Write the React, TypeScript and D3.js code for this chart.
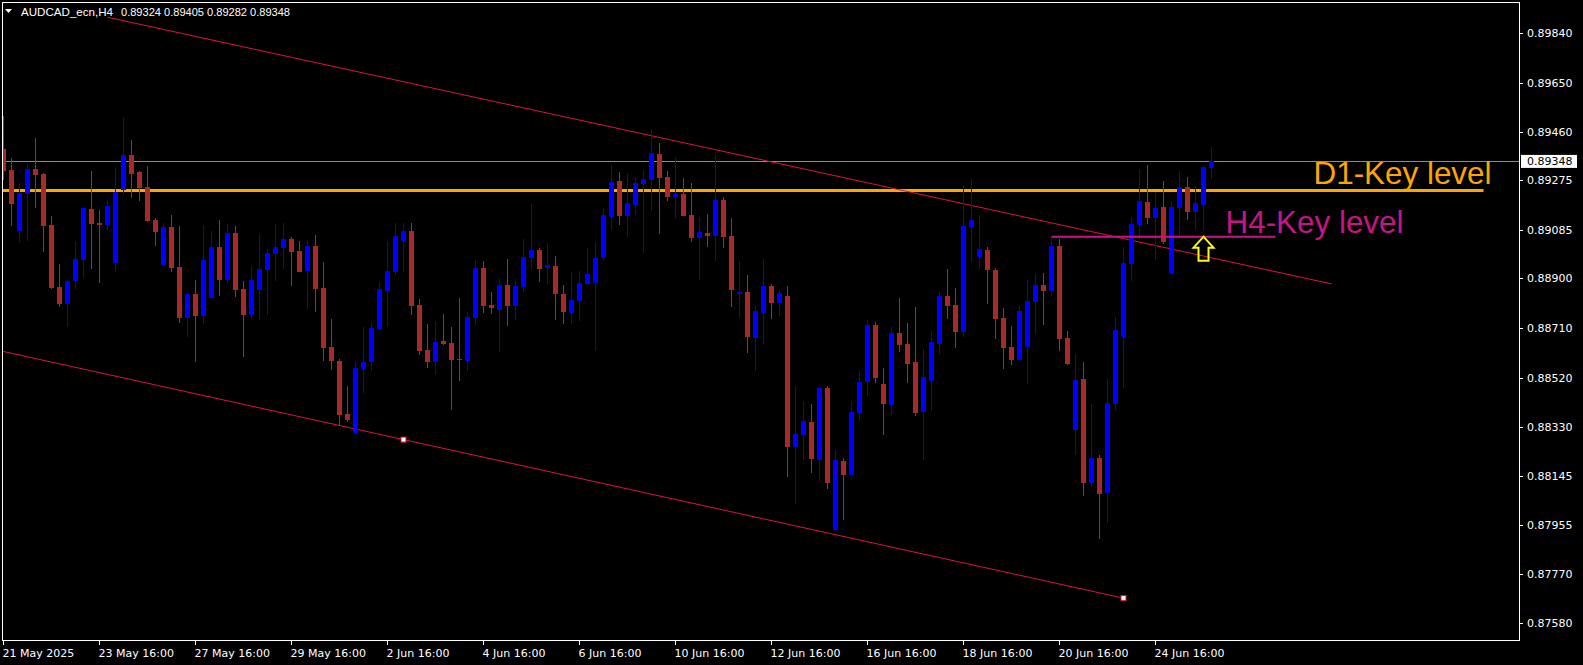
import React from 'react'
import * as d3 from 'd3'

const W = 1583
const H = 665

// H4 candles, oldest first (21 May 16:00 ... 25 Jun 12:00)
const opens = [
	0.89394, 0.89315, 0.89083, 0.89224, 0.89319, 0.893, 0.89104, 0.88867, 0.88803, 0.8889,
	0.88972, 0.89166, 0.89112, 0.89104, 0.88959, 0.89239, 0.89373, 0.89307, 0.89249, 0.89124,
	0.88951, 0.89097, 0.88944, 0.8875, 0.8884, 0.88757, 0.88826, 0.8902, 0.88895, 0.89074,
	0.8886, 0.88761, 0.88857, 0.88934, 0.88995, 0.89018, 0.89051, 0.89005, 0.88928, 0.89024,
	0.88863, 0.88638, 0.88584, 0.88381, 0.8831, 0.88555, 0.88581, 0.88708, 0.88852, 0.88926,
	0.89043, 0.89082, 0.88798, 0.88626, 0.88581, 0.88661, 0.88653, 0.88592, 0.88584, 0.8875,
	0.8894, 0.88798, 0.8878, 0.88875, 0.88796, 0.88867, 0.8898, 0.89009, 0.88941, 0.88948,
	0.8884, 0.88769, 0.88815, 0.8888, 0.88883, 0.8898, 0.89135, 0.89273, 0.8914, 0.89181,
	0.89263, 0.89278, 0.89376, 0.89288, 0.89212, 0.89223, 0.89143, 0.89056, 0.89074, 0.89064,
	0.892, 0.89062, 0.88842, 0.88848, 0.88673, 0.88769, 0.88871, 0.88807, 0.88833, 0.88256,
	0.88302, 0.8835, 0.88206, 0.88481, 0.87938, 0.88202, 0.88149, 0.88386, 0.88505, 0.88722,
	0.88496, 0.88417, 0.88691, 0.88649, 0.8858, 0.8839, 0.88507, 0.8865, 0.88833, 0.88798,
	0.88696, 0.89097, 0.88982, 0.89009, 0.88932, 0.88749, 0.88638, 0.88589, 0.88638, 0.88811,
	0.88875, 0.88852, 0.89024, 0.88672, 0.88321, 0.88515, 0.88118, 0.88213, 0.8808, 0.88421,
	0.88676, 0.88957, 0.89104, 0.89193, 0.89133, 0.89173, 0.88921, 0.89171, 0.8925, 0.89156,
	0.89181, 0.89324
]
const highs = [
	0.89522, 0.8936, 0.89264, 0.89338, 0.89439, 0.89305, 0.89139, 0.88955, 0.88894, 0.89043,
	0.89173, 0.89311, 0.89162, 0.892, 0.89325, 0.89515, 0.8943, 0.89311, 0.8933, 0.8913,
	0.89111, 0.89143, 0.89101, 0.88844, 0.88894, 0.89104, 0.89082, 0.89124, 0.89108, 0.89101,
	0.8889, 0.88948, 0.8907, 0.89013, 0.89108, 0.89112, 0.89059, 0.89043, 0.89047, 0.89066,
	0.88963, 0.88745, 0.88592, 0.88488, 0.8858, 0.88714, 0.88733, 0.88886, 0.89043, 0.89112,
	0.89112, 0.89112, 0.88821, 0.88726, 0.88737, 0.88764, 0.88714, 0.88825, 0.88772, 0.88971,
	0.88967, 0.88848, 0.88898, 0.88974, 0.88898, 0.89051, 0.89185, 0.89017, 0.89036, 0.88986,
	0.88875, 0.88925, 0.88928, 0.89017, 0.89039, 0.8917, 0.89334, 0.89307, 0.893, 0.89288,
	0.89315, 0.89472, 0.89418, 0.89311, 0.89361, 0.89284, 0.89265, 0.89135, 0.89147, 0.89376,
	0.89212, 0.89131, 0.88967, 0.88913, 0.88798, 0.88974, 0.88879, 0.88852, 0.88871, 0.88488,
	0.88431, 0.88419, 0.88484, 0.88488, 0.88245, 0.88214, 0.88431, 0.88546, 0.88741, 0.88733,
	0.88557, 0.88714, 0.88825, 0.88729, 0.88791, 0.8863, 0.88699, 0.88848, 0.88936, 0.88863,
	0.89258, 0.89281, 0.89143, 0.8902, 0.8894, 0.88787, 0.88718, 0.88794, 0.88894, 0.88917,
	0.88921, 0.89059, 0.89051, 0.88699, 0.88611, 0.88581, 0.88421, 0.88225, 0.88515, 0.88752,
	0.8902, 0.89135, 0.89319, 0.89334, 0.89231, 0.89273, 0.89196, 0.89311, 0.89288, 0.89254,
	0.8933, 0.89405
]
const lows = [
	0.89277, 0.89101, 0.89041, 0.89045, 0.89171, 0.89002, 0.8886, 0.88792, 0.88714, 0.8886,
	0.88903, 0.88936, 0.88883, 0.89082, 0.88925, 0.89219, 0.89209, 0.89198, 0.89117, 0.89025,
	0.8895, 0.88926, 0.88731, 0.88677, 0.88581, 0.88727, 0.88825, 0.88834, 0.88884, 0.8883,
	0.88601, 0.8875, 0.88742, 0.88761, 0.8889, 0.88936, 0.88872, 0.88923, 0.88784, 0.88773,
	0.88585, 0.88551, 0.8834, 0.88352, 0.88309, 0.88463, 0.88547, 0.88705, 0.88714, 0.88914,
	0.88926, 0.88761, 0.88608, 0.88558, 0.88532, 0.88646, 0.88398, 0.88509, 0.88547, 0.88723,
	0.88769, 0.88765, 0.8862, 0.88719, 0.88742, 0.88849, 0.88934, 0.88888, 0.8888, 0.88742,
	0.88727, 0.88727, 0.88738, 0.88876, 0.88623, 0.88972, 0.89087, 0.89106, 0.8906, 0.89143,
	0.88997, 0.89158, 0.89071, 0.89198, 0.89133, 0.89139, 0.89041, 0.88895, 0.89022, 0.88968,
	0.89018, 0.88792, 0.8875, 0.88616, 0.88547, 0.8865, 0.88746, 0.88757, 0.88141, 0.88038,
	0.88206, 0.88156, 0.88126, 0.88095, 0.87937, 0.87977, 0.88145, 0.88356, 0.88451, 0.88501,
	0.88302, 0.88379, 0.8862, 0.88501, 0.88375, 0.88206, 0.88394, 0.88612, 0.88746, 0.88635,
	0.88677, 0.88964, 0.88937, 0.88803, 0.88669, 0.88555, 0.8857, 0.88585, 0.88497, 0.88689,
	0.88723, 0.88834, 0.88623, 0.8857, 0.88225, 0.88068, 0.88103, 0.87904, 0.87965, 0.88398,
	0.88482, 0.8889, 0.89052, 0.8911, 0.88972, 0.89033, 0.88918, 0.89062, 0.89125, 0.89087,
	0.89082, 0.89282
]
const closes = [
	0.89312, 0.89186, 0.89226, 0.89318, 0.89296, 0.89102, 0.88865, 0.88803, 0.8889, 0.88974,
	0.89171, 0.8911, 0.89106, 0.89177, 0.89232, 0.89373, 0.893, 0.89246, 0.8912, 0.89079,
	0.89097, 0.88941, 0.8875, 0.8884, 0.88757, 0.88971, 0.8902, 0.88895, 0.89074, 0.88857,
	0.88761, 0.88894, 0.88936, 0.88997, 0.8902, 0.89051, 0.89002, 0.88926, 0.89024, 0.88861,
	0.88635, 0.88585, 0.88379, 0.88359, 0.88557, 0.8858, 0.8871, 0.8886, 0.88928, 0.89062,
	0.89082, 0.88796, 0.88623, 0.88581, 0.88657, 0.8865, 0.88589, 0.88589, 0.88752, 0.8894,
	0.88796, 0.88788, 0.88875, 0.88796, 0.88871, 0.88982, 0.89009, 0.88937, 0.88951, 0.88842,
	0.88773, 0.88817, 0.88883, 0.88917, 0.88978, 0.89143, 0.89269, 0.8914, 0.89189, 0.89265,
	0.89281, 0.8938, 0.89286, 0.89213, 0.89223, 0.8914, 0.89056, 0.89078, 0.89064, 0.892,
	0.8906, 0.88857, 0.88848, 0.88677, 0.88775, 0.88871, 0.88807, 0.88844, 0.88256, 0.88306,
	0.88354, 0.8821, 0.88481, 0.88118, 0.88205, 0.88149, 0.88389, 0.88504, 0.88722, 0.8852,
	0.88421, 0.88691, 0.88646, 0.88574, 0.88386, 0.88523, 0.88657, 0.88833, 0.88796, 0.88696,
	0.89101, 0.89124, 0.89013, 0.88934, 0.88746, 0.88635, 0.88589, 0.88775, 0.88814, 0.88875,
	0.88853, 0.89025, 0.88669, 0.88574, 0.88511, 0.88118, 0.88213, 0.88076, 0.88423, 0.88703,
	0.88959, 0.89108, 0.89196, 0.89133, 0.8917, 0.89041, 0.89173, 0.8925, 0.89156, 0.89189,
	0.89327, 0.89348
]

const priceTicks = [
	0.8984, 0.8965, 0.8946, 0.89275, 0.89085, 0.889, 0.8871, 0.8852, 0.8833, 0.88145, 0.87955,
	0.8777, 0.8758
]
const timeLabels = [
	'21 May 2025', '23 May 16:00', '27 May 16:00', '29 May 16:00', '2 Jun 16:00', '4 Jun 16:00',
	'6 Jun 16:00', '10 Jun 16:00', '12 Jun 16:00', '16 Jun 16:00', '18 Jun 16:00',
	'20 Jun 16:00', '24 Jun 16:00'
]
const timeLabelBars = [0, 12, 24, 36, 48, 60, 72, 84, 96, 108, 120, 132, 144]

const symbol = 'AUDCAD_ecn,H4'
const bid = 0.89348
const d1Level = 0.89237
const h4Level = 0.89060
// trend line anchors: [bar index, price]
const upperTrend = [[13, 0.899], [166, 0.88879]]
const lowerTrend = [[-40, 0.8889], [140, 0.87676]]
const lowerTrendMarks = [[50, 0.88283], [140, 0.87676]]
const h4Span = [131, 159]
const arrowBar = 150

const plot = { left: 2, top: 2, right: 1519, bottom: 640 }
const bull = '#0000FF'
const bear = '#A52A2A'
const axisFont = '"DejaVu Sans", sans-serif'
const textFont = '"Liberation Sans", Arial, sans-serif'

const App = () => {
	const x = d3.scaleLinear().domain([0, 1]).range([3.5, 11.5])
	const y = d3.scaleLinear().domain([0.8758, 0.8984]).range([623.2, 32.9])
	const fmt = d3.format('.5f')
	const line = d3.line<number[]>().x((d) => x(d[0])).y((d) => y(d[1]))

	const ax = x(arrowBar)
	const ay = y(h4Level)
	const arrow = `M${ax},${ay} L${ax + 10},${ay + 11} L${ax + 5},${ay + 11} L${ax + 5},${ay + 24} L${ax - 5},${ay + 24} L${ax - 5},${ay + 11} L${ax - 10},${ay + 11} Z`

	return (
		<svg width={W} height={H} style={{ display: 'block', background: '#000' }}>
			<style>{`body{margin:0;background:#000}`}</style>
			<defs>
				<clipPath id="plotClip">
					<rect x={plot.left} y={plot.top} width={plot.right - plot.left} height={plot.bottom - plot.top} />
				</clipPath>
			</defs>
			<rect width={W} height={H} fill="#000" />

			<g clipPath="url(#plotClip)">
				{/* bid line */}
				<line x1={plot.left} x2={plot.right} y1={Math.round(y(bid)) + 0.5} y2={Math.round(y(bid)) + 0.5} stroke="#8c8c8c" />
				{/* D1 key level */}
				<line x1={x(-5)} x2={x(185)} y1={y(d1Level)} y2={y(d1Level)} stroke="#FFA500" strokeWidth={3} />
				{/* trend channel */}
				<path d={line(upperTrend) || ''} stroke="#DC143C" fill="none" />
				<path d={line(lowerTrend) || ''} stroke="#DC143C" fill="none" />

				{/* candles */}
				{opens.map((o, i) => {
					const c = closes[i]
					const col = c >= o ? bull : bear
					const cx = x(i)
					const top = Math.round(y(Math.max(o, c)))
					const bot = Math.round(y(Math.min(o, c)))
					return (
						<g key={i}>
							<line x1={cx} x2={cx} y1={Math.round(y(highs[i]))} y2={Math.round(y(lows[i]))} stroke={col} />
							<rect x={cx - 2.5} y={top} width={5} height={Math.max(1, bot - top)} fill={col} />
						</g>
					)
				})}

				{/* H4 key level */}
				<line x1={x(h4Span[0])} x2={x(h4Span[1])} y1={y(h4Level)} y2={y(h4Level)} stroke="#C71585" strokeWidth={2} />
				<path d={arrow} fill="none" stroke="#FFFF00" strokeWidth={2} strokeLinejoin="miter" />

				{lowerTrendMarks.map((m, i) => (
					<rect key={i} x={x(m[0]) - 2.5} y={y(m[1]) - 2.5} width={5} height={5} fill="#fff" stroke="#DC143C" />
				))}

				<text x={x(164) - 2} y={y(0.8926)} fill="#FFA500" fontFamily={textFont} fontSize={32} textLength={178} lengthAdjust="spacingAndGlyphs">
					D1-Key level
				</text>
				<text x={x(153) - 2} y={y(0.89073)} fill="#C71585" fontFamily={textFont} fontSize={32} textLength={178} lengthAdjust="spacingAndGlyphs">
					H4-Key level
				</text>

				{/* title */}
				<path d="M5,9 L12,9 L8.5,13 Z" fill="#fff" />
				<text x={21} y={16} fill="#fff" fontFamily={textFont} fontSize={11.5} textLength={92} lengthAdjust="spacingAndGlyphs">
					{symbol}
				</text>
				<text x={121} y={16} fill="#fff" fontFamily={textFont} fontSize={11} textLength={169} lengthAdjust="spacingAndGlyphs">
					{[0.89324, 0.89405, 0.89282, 0.89348].map(fmt).join(' ')}
				</text>
			</g>

			{/* frame */}
			<rect x={plot.left + 0.5} y={plot.top + 0.5} width={plot.right - plot.left} height={plot.bottom - plot.top} fill="none" stroke="#fff" />

			{/* price axis */}
			{priceTicks.map((p) => (
				<g key={p}>
					<line x1={plot.right} x2={plot.right + 4} y1={Math.round(y(p)) + 0.5} y2={Math.round(y(p)) + 0.5} stroke="#fff" />
					<text x={1527} y={y(p) + 4} fill="#fff" fontFamily={axisFont} fontSize={11}>
						{fmt(p)}
					</text>
				</g>
			))}
			<rect x={1521} y={y(bid) - 6.5} width={56} height={13} fill="#fff" />
			<text x={1527} y={y(bid) + 4} fill="#000" fontFamily={axisFont} fontSize={11}>
				{fmt(bid)}
			</text>

			{/* time axis */}
			{timeLabels.map((t, i) => (
				<g key={t}>
					<line x1={x(timeLabelBars[i])} x2={x(timeLabelBars[i])} y1={plot.bottom} y2={plot.bottom + 5} stroke="#fff" />
					<text x={x(timeLabelBars[i]) - 1} y={657} fill="#fff" fontFamily={axisFont} fontSize={11}>
						{t}
					</text>
				</g>
			))}
		</svg>
	)
}

export default App
